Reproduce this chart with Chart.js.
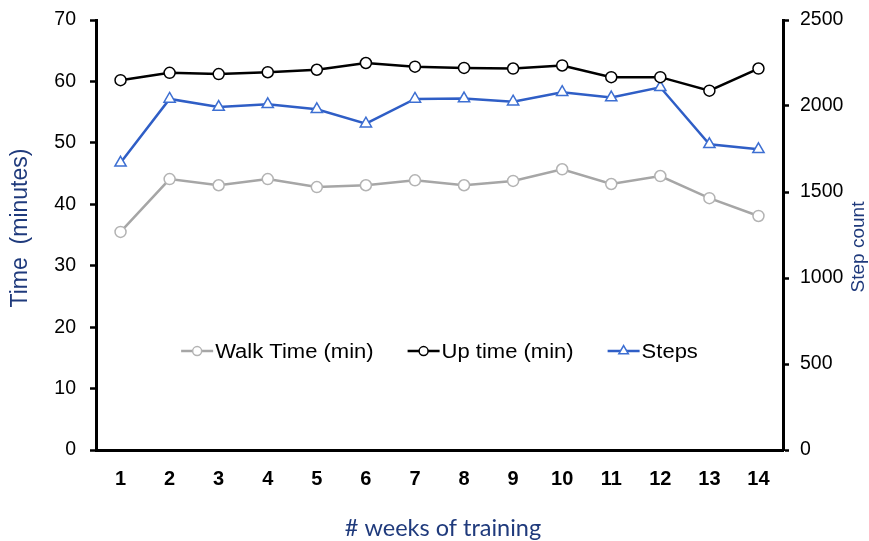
<!DOCTYPE html>
<html>
<head>
<meta charset="utf-8">
<script src="https://cdn.jsdelivr.net/npm/chart.js@4/dist/chart.umd.min.js"></script>
<style>
  html, body { margin: 0; padding: 0; background: #fff; }
  #wrap { width: 869px; height: 541px; position: relative; }
</style>
</head>
<body>
<div id="wrap"><canvas id="chart" width="869" height="541"></canvas></div>
<script>
// Weekly training summary: walking time, time upright, and step count
const weeks = ['1', '2', '3', '4', '5', '6', '7', '8', '9', '10', '11', '12', '13', '14'];
const walkTime = [35.5, 44.1, 43.1, 44.1, 42.8, 43.1, 43.9, 43.1, 43.8, 45.7, 43.3, 44.6, 41.0, 38.1];
const upTime = [60.2, 61.4, 61.2, 61.5, 61.9, 63.0, 62.4, 62.2, 62.1, 62.6, 60.7, 60.7, 58.5, 62.1];
const steps = [1670, 2041, 1994, 2010, 1981, 1897, 2041, 2043, 2025, 2080, 2049, 2109, 1777, 1748];
const timeTicks = [0, 10, 20, 30, 40, 50, 60, 70];
const stepTicks = [0, 500, 1000, 1500, 2000, 2500];

const seriesNames = ['Walk Time (min)', 'Up time (min)', 'Steps'];
const titleLeft = 'Time  (minutes)';
const titleRight = 'Step count';
const titleBottom = '# weeks of training';

const NAVY = '#1f3a7c';
const TICK_FONT = 'Liberation Sans, Arial, sans-serif';

function drawMarker(ctx, style, x, y, r) {
  ctx.beginPath();
  if (style === 'triangle') {
    let a = 0;
    ctx.moveTo(x + Math.sin(a) * r, y - Math.cos(a) * r);
    a += Math.PI * 2 / 3;
    ctx.lineTo(x + Math.sin(a) * r, y - Math.cos(a) * r);
    a += Math.PI * 2 / 3;
    ctx.lineTo(x + Math.sin(a) * r, y - Math.cos(a) * r);
    ctx.closePath();
  } else {
    ctx.arc(x, y, r, 0, Math.PI * 2);
  }
  ctx.fill();
  ctx.stroke();
}

function scaledText(ctx, text, x, y, sx) {
  ctx.save();
  ctx.translate(x, y);
  ctx.scale(sx, 1);
  ctx.fillText(text, 0, 0);
  ctx.restore();
}

// Legend inside the plot area plus the axis titles
const overlay = {
  id: 'overlay',
  afterDraw(chart) {
    const ctx = chart.ctx;
    const area = chart.chartArea;
    ctx.save();

    // legend row
    const sx = 1.1;
    const sampleW = 32, textGap = 2, itemGap = 34;
    ctx.font = '20px ' + TICK_FONT;
    const items = chart.data.datasets.map(ds => {
      const tw = ctx.measureText(ds.label).width * sx;
      return { ds, tw, w: sampleW + textGap + tw };
    });
    const total = items.reduce((s, it) => s + it.w, 0) + itemGap * (items.length - 1);
    let x = (area.left + area.right) / 2 - total / 2;
    const ly = area.top + (area.bottom - area.top) * 0.77;
    items.forEach(it => {
      const ds = it.ds;
      ctx.strokeStyle = ds.borderColor;
      ctx.lineWidth = ds.borderWidth;
      ctx.beginPath();
      ctx.moveTo(x, ly);
      ctx.lineTo(x + sampleW, ly);
      ctx.stroke();
      ctx.fillStyle = '#fff';
      ctx.strokeStyle = ds.pointBorderColor;
      ctx.lineWidth = 1.5;
      drawMarker(ctx, ds.pointStyle, x + sampleW / 2, ly, ds.pointStyle === 'triangle' ? 5.5 : 4.5);
      ctx.fillStyle = '#000';
      ctx.textAlign = 'left';
      ctx.textBaseline = 'middle';
      scaledText(ctx, ds.label, x + sampleW + textGap, ly + 1, sx);
      x += it.w + itemGap;
    });

    // axis titles
    ctx.fillStyle = NAVY;
    ctx.textAlign = 'center';
    ctx.textBaseline = 'middle';

    ctx.font = '23px ' + TICK_FONT;
    ctx.save();
    ctx.translate(21, 228);
    ctx.rotate(-Math.PI / 2);
    ctx.fillText(titleLeft, 0, 0);
    ctx.restore();

    ctx.font = '19px ' + TICK_FONT;
    ctx.save();
    ctx.translate(859, 247);
    ctx.rotate(-Math.PI / 2);
    ctx.fillText(titleRight, 0, 0);
    ctx.restore();

    ctx.font = '23.5px Lato, "Open Sans", sans-serif';
    scaledText(ctx, titleBottom, 443, 528, 1.0);

    ctx.restore();
  }
};

const axisStyle = {
  grid: { drawOnChartArea: false, drawTicks: true, tickLength: 6, tickWidth: 2.5, tickColor: '#000' },
  border: { display: true, color: '#000', width: 3 }
};
const plainNumber = v => String(v);

new Chart(document.getElementById('chart'), {
  type: 'line',
  data: {
    labels: weeks,
    datasets: [
      {
        label: seriesNames[0], data: walkTime, yAxisID: 'y',
        borderColor: '#a6a6a6', borderWidth: 2.5,
        pointStyle: 'circle', pointRadius: 5.5, pointBorderWidth: 1.5,
        pointBackgroundColor: '#fff', pointBorderColor: '#b3b3b3'
      },
      {
        label: seriesNames[1], data: upTime, yAxisID: 'y',
        borderColor: '#000', borderWidth: 2.5,
        pointStyle: 'circle', pointRadius: 5.5, pointBorderWidth: 1.5,
        pointBackgroundColor: '#fff', pointBorderColor: '#000'
      },
      {
        label: seriesNames[2], data: steps, yAxisID: 'y1',
        borderColor: '#2f5ec6', borderWidth: 2.5,
        pointStyle: 'triangle', pointRadius: 6.5, pointBorderWidth: 1.5,
        pointBackgroundColor: '#fff', pointBorderColor: '#3d6fd2'
      }
    ]
  },
  options: {
    responsive: false,
    animation: false,
    layout: { padding: { top: 20, left: 0, right: 0, bottom: 0 } },
    plugins: { legend: { display: false }, tooltip: { enabled: false } },
    scales: {
      x: {
        type: 'category', offset: true,
        grid: { display: true, drawOnChartArea: false, drawTicks: false },
        border: { display: true, color: '#000', width: 3 },
        ticks: { color: '#000', padding: 17, font: { family: TICK_FONT, size: 20, weight: 'bold' }, maxRotation: 0 },
        afterFit(s) { s.height = 91; }
      },
      y: {
        position: 'left', min: 0, max: 70,
        ...axisStyle,
        afterBuildTicks(s) { s.ticks = timeTicks.map(v => ({ value: v })); },
        ticks: { color: '#000', padding: 14, font: { family: TICK_FONT, size: 19.5, lineHeight: 0.6 }, callback: plainNumber },
        afterFit(s) { s.width = 96; }
      },
      y1: {
        position: 'right', min: 0, max: 2500,
        ...axisStyle,
        afterBuildTicks(s) { s.ticks = stepTicks.map(v => ({ value: v })); },
        ticks: { color: '#000', padding: 11, font: { family: TICK_FONT, size: 19.5, lineHeight: 0.6 }, callback: plainNumber },
        afterFit(s) { s.width = 86; }
      }
    }
  },
  plugins: [overlay]
});
</script>
</body>
</html>
